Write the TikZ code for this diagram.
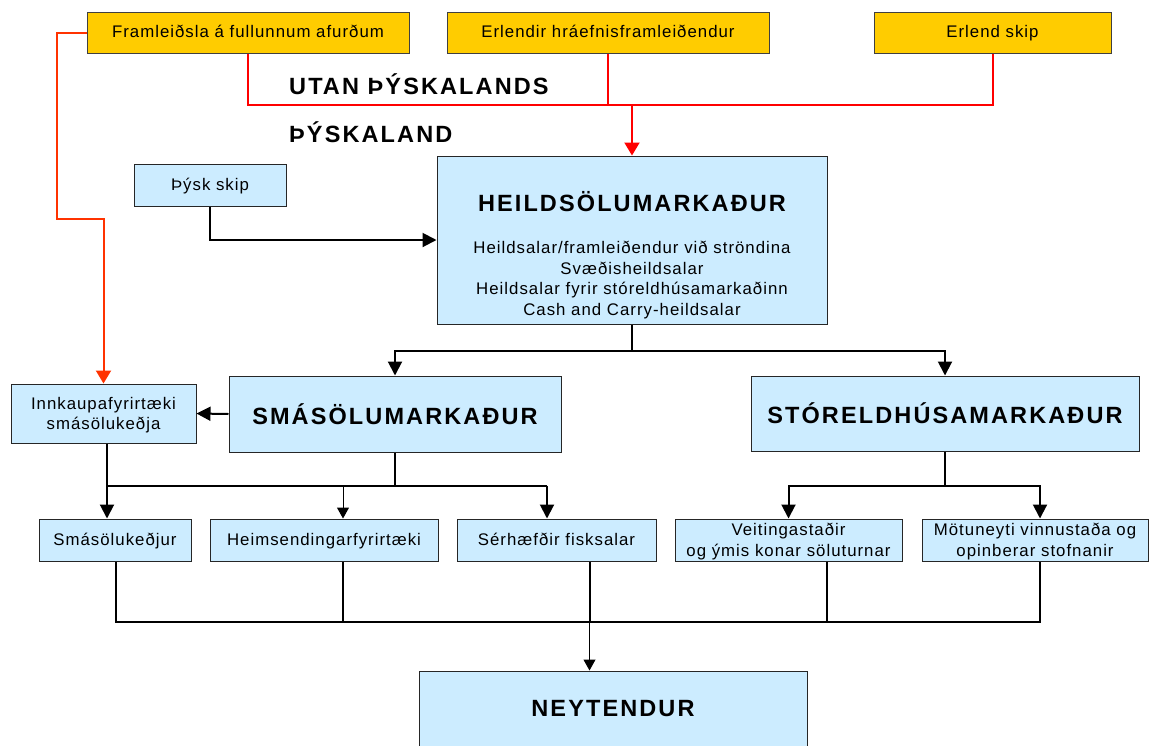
\documentclass[tikz,border=0pt]{standalone}
\usepackage{fontspec}
\setmainfont{Liberation Sans}[LetterSpace=6]
\newfontfamily\titillfont{Liberation Sans}[LetterSpace=9]
\usetikzlibrary{arrows.meta}
\definecolor{gulur}{HTML}{FFCC00}
\definecolor{ljosblar}{HTML}{CCECFF}
\definecolor{appelsina}{HTML}{FF3300}
\newcommand\Titill{\titillfont\fontsize{23.5}{28}\selectfont\bfseries}
\newcommand\Texti{\fontsize{16.8}{20.7}\selectfont}
\begin{document}
\begin{tikzpicture}[x=1pt,y=-1pt,
	yellowbox/.style={draw=black!75,fill=gulur,line width=1pt,inner sep=0pt,minimum height=41pt,text height=14pt,text depth=3.8pt,font=\Texti},
	bluebox/.style={draw=black!85,fill=ljosblar,line width=1pt,inner sep=0pt,align=center,font=\Texti},
	oneline/.style={text height=14pt,text depth=3.8pt},
	twolines/.style={text depth=-1pt},
	link/.style={line width=2pt,-{Triangle[length=14pt,width=14pt]}},
	thinlink/.style={line width=1pt,-{Triangle[length=11pt,width=12pt]}},
	redlink/.style={red,line width=2pt}]
		\useasboundingbox (0,0) rectangle (1150,745);
		% utan Thyskalands
		\node[yellowbox,minimum width=322pt] (afurdir) at (248,32.5) {Framleiðsla á fullunnum afurðum};
		\node[yellowbox,minimum width=322pt] (hraefni) at (608,32.5) {Erlendir hráefnisframleiðendur};
		\node[yellowbox,minimum width=237pt] (erlskip) at (992.5,32.5) {Erlend skip};
		\node[anchor=west,inner sep=0pt,font=\Titill] (utan) at (289,84) {UTAN ÞÝSKALANDS};
		\node[anchor=west,inner sep=0pt,font=\Titill] (innan) at (289,132) {ÞÝSKALAND};
		% heildsala
		\node[bluebox,oneline,minimum width=152pt,minimum height=42pt] (thskip) at (210,185) {Þýsk skip};
		\node[bluebox,minimum width=390pt,minimum height=168pt] (heild) at (632,240) {};
		\node[font=\Titill] (heildtitill) at (632,202) {HEILDSÖLUMARKAÐUR};
		\node[align=center,font=\Texti] (heildlisti) at (632,280) {Heildsalar/framleiðendur við ströndina\\Svæðisheildsalar\\Heildsalar fyrir stóreldhúsamarkaðinn\\Cash and Carry-heildsalar};
		% markadir
		\node[bluebox,twolines,minimum width=185pt,minimum height=59pt] (innkaup) at (103.5,413.5) {Innkaupafyrirtæki\\smásölukeðja};
		\node[bluebox,minimum width=332pt,minimum height=76pt,font=\Titill] (smasala) at (395,414) {SMÁSÖLUMARKAÐUR};
		\node[bluebox,minimum width=388pt,minimum height=75pt,font=\Titill] (storeld) at (945,413.5) {STÓRELDHÚSAMARKAÐUR};
		% sala til neytenda
		\node[bluebox,oneline,minimum width=152pt,minimum height=42pt] (kedjur) at (115,540) {Smásölukeðjur};
		\node[bluebox,oneline,minimum width=228pt,minimum height=42pt] (heimsend) at (324,540) {Heimsendingarfyrirtæki};
		\node[bluebox,oneline,minimum width=199pt,minimum height=42pt] (fisksalar) at (556.5,540) {Sérhæfðir fisksalar};
		\node[bluebox,twolines,minimum width=227pt,minimum height=42pt] (veitinga) at (788.5,540) {Veitingastaðir\\og ýmis konar söluturnar};
		\node[bluebox,twolines,minimum width=226pt,minimum height=42pt] (motuneyti) at (1035,540) {Mötuneyti vinnustaða og\\opinberar stofnanir};
		\node[bluebox,minimum width=388pt,minimum height=76pt,font=\Titill] (neyt) at (613,709) {NEYTENDUR};
		% rauðar linur
		\draw[redlink] (afurdir.south) -- ++(0,51) coordinate (rautt) -| (erlskip.south);
		\draw[redlink] (hraefni.south) -- (hraefni.south |- rautt);
		\draw[redlink,-{Triangle[length=13pt,width=15pt]}] (heild.north |- rautt) -- (heild.north);
		\draw[appelsina,line width=2pt,-{Triangle[length=13pt,width=15pt]}] (afurdir.west) -- ++(-30,0) |- (innkaup.north |- 0,218.5) -- (innkaup.north);
		% svartar linur
		\draw[link] (thskip.south) |- (heild.west);
		\draw[line width=2pt] (heild.south) -- ++(0,26) coordinate (heildV);
		\draw[link] (heildV) -| (smasala.north);
		\draw[link] (heildV) -| (storeld.north);
		\draw[link] (smasala.west) -- (innkaup.east);
		\coordinate (innkaupOut) at ([xshift=3.5pt]innkaup.south);
		\coordinate (heimsendIn) at ([xshift=19pt]heimsend.north);
		\coordinate (fisksalarIn) at ([xshift=-9.5pt]fisksalar.north);
		\coordinate (motuneytiIn) at ([xshift=5pt]motuneyti.north);
		\draw[line width=2pt] (smasala.south) -- ++(0,33) coordinate (smaV);
		\draw[link] (innkaupOut) -- (innkaupOut |- kedjur.north);
		\draw[line width=2pt] (innkaupOut |- smaV) -- (fisksalarIn |- smaV);
		\draw[thinlink] (heimsendIn |- smaV) -- (heimsendIn);
		\draw[link] (fisksalarIn |- smaV) -- (fisksalarIn);
		\draw[line width=2pt] (storeld.south) -- ++(0,34) coordinate (storV);
		\draw[link] (storV) -| (veitinga.north);
		\draw[link] (storV) -| (motuneytiIn);
		% til neytenda
		\coordinate (kedjurOut) at ([xshift=1pt]kedjur.south);
		\coordinate (heimsendOut) at ([xshift=19pt]heimsend.south);
		\coordinate (fisksalarOut) at ([xshift=33pt]fisksalar.south);
		\coordinate (veitingaOut) at ([xshift=38.5pt]veitinga.south);
		\coordinate (motuneytiOut) at ([xshift=5pt]motuneyti.south);
		\draw[line width=2pt] (kedjurOut) -- ++(0,60) coordinate (safn) -| (motuneytiOut);
		\foreach \c in {heimsendOut,fisksalarOut,veitingaOut}
			\draw[line width=2pt] (\c) -- (\c |- safn);
		\draw[thinlink] (fisksalarOut |- safn) -- (fisksalarOut |- neyt.north);
\end{tikzpicture}
\end{document}
